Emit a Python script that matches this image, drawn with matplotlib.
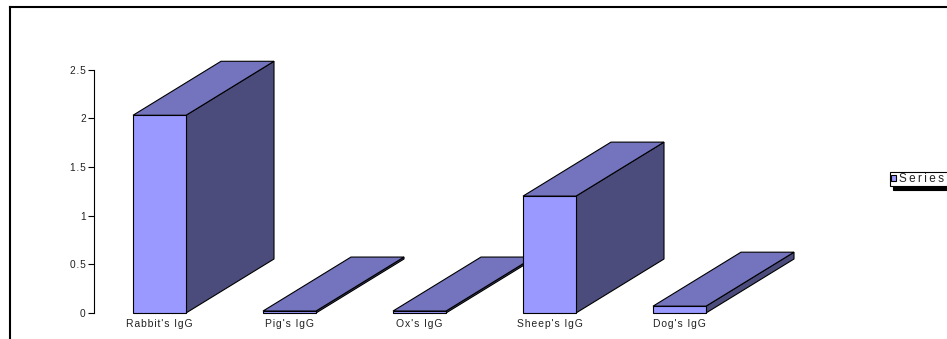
import matplotlib
matplotlib.use("Agg")
import matplotlib.pyplot as plt
from matplotlib.patches import Polygon
from matplotlib.lines import Line2D
from matplotlib.patches import Patch

categories = ["Rabbit's IgG", "Pig's IgG", "Ox's IgG", "Sheep's IgG", "Dog's IgG"]
values = [2.03, 0.02, 0.02, 1.20, 0.07]
yticks = [0, 0.5, 1, 1.5, 2, 2.5]
ytick_labels = ["0", "0.5", "1", "1.5", "2", "2.5"]
series_name = "Series1"

FRONT = "#9999FF"
TOP = "#7373BE"
SIDE = "#4B4B7C"


def spaced(s, gap="\u200a"):
    # widen the tracking by putting a narrow space between letters
    return gap.join(s)


W, H = 947, 339
fig = plt.figure(figsize=(W / 100, H / 100), dpi=100)
fig.patch.set_facecolor("white")

plt.rcParams["font.family"] = ["Liberation Sans", "DejaVu Sans"]

# axes geometry in pixels
ax_left, ax_right = 94, 880
ax_bottom_px = H - 313
ax_top_px = H - 7
ax = fig.add_axes([ax_left / W, ax_bottom_px / H,
                   (ax_right - ax_left) / W, (ax_top_px - ax_bottom_px) / H])
ax.set_facecolor("none")

px_per_cat = 130.0
px_per_unit = 97.4
x0 = (ax_left - 159.5) / px_per_cat
x1 = (ax_right - 159.5) / px_per_cat
ax.set_xlim(x0, x1)
ax.set_ylim(0, (ax_top_px - ax_bottom_px) / px_per_unit)

half_w = 53 / px_per_cat / 2
depth_x = 88 / px_per_cat
depth_y = 54 / px_per_unit

for i, v in enumerate(values):
    c = i
    z = 2 + i * 3
    side = [(c + half_w, 0), (c + half_w + depth_x, depth_y),
            (c + half_w + depth_x, v + depth_y), (c + half_w, v)]
    top = [(c - half_w, v), (c + half_w, v),
           (c + half_w + depth_x, v + depth_y), (c - half_w + depth_x, v + depth_y)]
    front = [(c - half_w, 0), (c + half_w, 0), (c + half_w, v), (c - half_w, v)]
    for pts, col, dz in ((side, SIDE, 0), (top, TOP, 1), (front, FRONT, 2)):
        ax.add_patch(Polygon(pts, closed=True, facecolor=col, edgecolor="black",
                             linewidth=0.8, joinstyle="miter", zorder=z + dz,
                             clip_on=False))

for s in ("top", "right", "bottom"):
    ax.spines[s].set_visible(False)
ax.spines["left"].set_bounds(0, 2.5)
ax.spines["left"].set_linewidth(0.8)
ax.set_yticks(yticks)
ax.set_yticklabels([spaced(t) for t in ytick_labels])
ax.tick_params(axis="y", length=4, width=0.8, pad=2, labelsize=7.3, colors="black")
ax.set_xticks(range(len(categories)))
ax.set_xticklabels([spaced(c) for c in categories])
ax.tick_params(axis="x", length=0, pad=4, labelsize=7.5)
for lab in ax.get_xticklabels() + ax.get_yticklabels():
    lab.set_color("#222222")

# outer chart frame
fx = 10 / W
fy = 1 - 7 / H
fig.add_artist(Line2D([fx, fx], [0, fy], transform=fig.transFigure,
                      color="black", linewidth=1.5))
fig.add_artist(Line2D([fx, 1], [fy, fy], transform=fig.transFigure,
                      color="black", linewidth=1.5))

# legend
handle = Patch(facecolor=FRONT, edgecolor="black", linewidth=0.8)
leg = fig.legend([handle], [spaced(series_name, "\u2009")], loc="upper left",
                 bbox_to_anchor=(890 / W, 1 - 172 / H),
                 frameon=True, fancybox=False,
                 shadow={"color": "black", "alpha": 1.0, "ox": 2, "oy": -2.5},
                 fontsize=8.5, handlelength=0.45, handleheight=0.35,
                 handletextpad=0.2, borderpad=0.1, borderaxespad=0)
leg.get_frame().set_edgecolor("black")
leg.get_frame().set_linewidth(0.8)
for t in leg.get_texts():
    t.set_color("#222222")

fig.savefig("out.png", dpi=100)
